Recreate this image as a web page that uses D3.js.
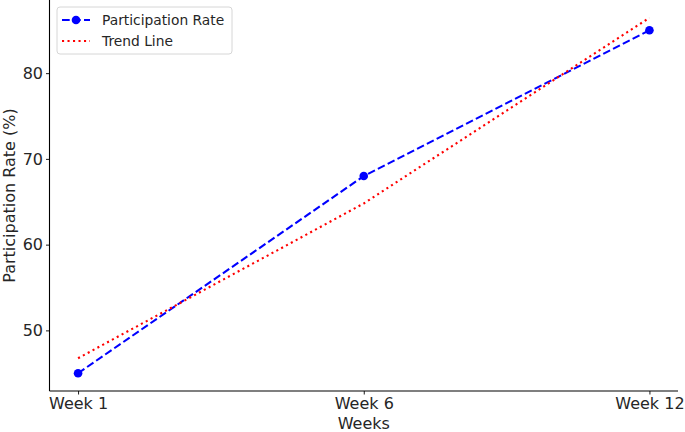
<html>
<head>
<meta charset="utf-8">
<style>
body { margin: 0; background: #fff; }
text { font-family: "DejaVu Sans", sans-serif; fill: #262626; }
</style>
<script src="https://d3js.org/d3.v7.min.js"></script>
</head>
<body>
<div id="chart"></div>
<script>

// data
const weeks = ["Week 1", "Week 6", "Week 12"];
const participation = [45, 68, 85];
const trend = [46.75, 64.8, 86.45];
const yTicks = [50, 60, 70, 80];

const W = 685, H = 432;
const plot = {left: 49.5, right: 678, top: 0, bottom: 391};

const svg = d3.select("#chart")
  .append("svg")
    .attr("width", W)
    .attr("height", H);

// scales (matplotlib-like 5% / 0.1 margins)
const x = d3.scalePoint()
    .domain(weeks)
    .range([plot.left, plot.right])
    .padding(0.1);

const y = d3.scaleLinear()
    .domain([42.93, 88.53])
    .range([plot.bottom, plot.top]);

// axes
const xAxis = svg.append("g")
    .attr("transform", `translate(0,${plot.bottom})`)
    .call(d3.axisBottom(x).tickSize(3.5).tickPadding(3).tickSizeOuter(0));

const yAxis = svg.append("g")
    .attr("transform", `translate(${plot.left},0)`)
    .call(d3.axisLeft(y).tickValues(yTicks).tickSize(3.5).tickPadding(3).tickSizeOuter(0));

[xAxis, yAxis].forEach(a => {
  a.select(".domain").attr("stroke", "#000").attr("stroke-width", 1.1);
  a.selectAll(".tick line").attr("stroke", "#000").attr("stroke-width", 0.9);
  a.selectAll(".tick text").style("font-size", "16px").attr("fill", "#262626");
});
// y spine runs full height
yAxis.select(".domain").attr("d", `M0,${plot.bottom}V${plot.top}`);
xAxis.select(".domain").attr("d", `M${plot.left},0H${plot.right}`);

// axis titles
svg.append("text")
    .attr("x", (plot.left + plot.right) / 2)
    .attr("y", 429)
    .attr("text-anchor", "middle")
    .style("font-size", "16px")
    .text("Weeks");

svg.append("text")
    .attr("transform", `translate(15,${(plot.top + plot.bottom) / 2}) rotate(-90)`)
    .attr("text-anchor", "middle")
    .style("font-size", "16px")
    .text("Participation Rate (%)");

// lines
const line = d3.line()
    .x((d, i) => x(weeks[i]))
    .y(d => y(d));

svg.append("path")
    .datum(participation)
    .attr("fill", "none")
    .attr("stroke", "#0000ff")
    .attr("stroke-width", 2.1)
    .attr("stroke-dasharray", "7.7,3.3")
    .attr("d", line);

svg.append("path")
    .datum(trend)
    .attr("fill", "none")
    .attr("stroke", "#ff0000")
    .attr("stroke-width", 2.1)
    .attr("stroke-dasharray", "2.1,3.4")
    .attr("d", line);

svg.append("g")
  .selectAll("circle")
  .data(participation)
  .join("circle")
    .attr("cx", (d, i) => x(weeks[i]))
    .attr("cy", d => y(d))
    .attr("r", 4.3)
    .attr("fill", "#0000ff");

// legend
const legend = svg.append("g").attr("transform", "translate(57,7)");
legend.append("rect")
    .attr("width", 175)
    .attr("height", 47)
    .attr("rx", 3)
    .attr("fill", "#fff")
    .attr("fill-opacity", 0.8)
    .attr("stroke", "#d6d6d6")
    .attr("stroke-width", 1);

const items = [
  {label: "Participation Rate", color: "#0000ff", dash: "7.7,3.3", marker: true},
  {label: "Trend Line", color: "#ff0000", dash: "2.1,3.4", marker: false}
];
items.forEach((it, i) => {
  const g = legend.append("g").attr("transform", `translate(0,${13 + i * 21})`);
  g.append("line")
      .attr("x1", 5).attr("x2", 33)
      .attr("stroke", it.color)
      .attr("stroke-width", 2.1)
      .attr("stroke-dasharray", it.dash);
  if (it.marker) {
    g.append("circle").attr("cx", 19).attr("r", 4.3).attr("fill", it.color);
  }
  g.append("text")
      .attr("x", 45)
      .attr("y", 5)
      .style("font-size", "13.8px")
      .text(it.label);
});

</script>
</body>
</html>
